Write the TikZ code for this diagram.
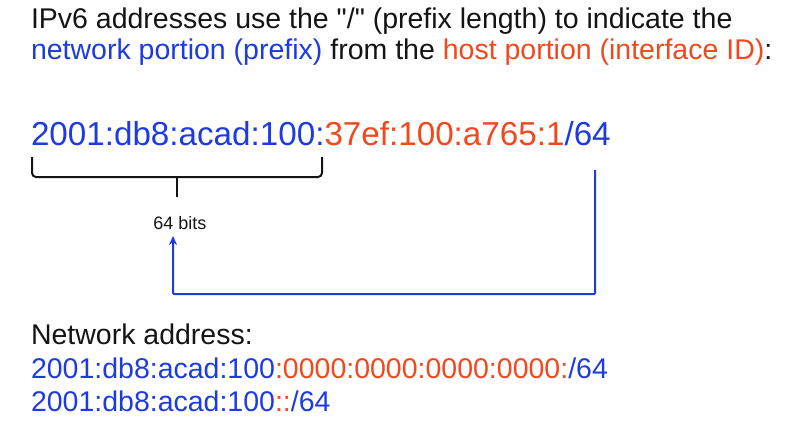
\documentclass[tikz,border=0pt]{standalone}
\usepackage{fontspec}
\setmainfont{Liberation Sans}[Ligatures=TeXOff]
\usetikzlibrary{arrows.meta}
\definecolor{netblue}{RGB}{30,58,225}
\definecolor{hostred}{RGB}{242,72,30}
\definecolor{txt}{RGB}{20,20,20}
\tikzset{
  line/.style={inner sep=0pt, outer sep=0pt, anchor=base west, text=txt},
  big/.style={line, font=\fontsize{28.5}{32}\selectfont},
  addr/.style={line, font=\fontsize{33.2}{36}\selectfont},
  small/.style={inner sep=0pt, anchor=base, text=txt, font=\fontsize{18}{20}\selectfont},
  bracepath/.style={draw=txt, line width=2pt, rounded corners=4pt},
  conn/.style={draw=netblue, line width=2pt, -{Stealth[length=9pt,width=8pt]}}
}
\begin{document}
\begin{tikzpicture}[x=1pt,y=-1pt]
\useasboundingbox (0,0) rectangle (799,433);
\node[big] (l1) at (31,29) {IPv6 addresses use the "/" (prefix length) to indicate the};
\node[big] (l2) at (31,60) {\textcolor{netblue}{network portion (prefix)} from the \textcolor{hostred}{host portion (interface ID)}:};
\node[addr] (ad) at (31,145) {\textcolor{netblue}{2001:db8:acad:100:}\textcolor{hostred}{37ef:100:a765:1}\textcolor{netblue}{/64}};
\draw[bracepath] (32,157) -- (32,177) -- (322,177) -- (322,157);
\draw[draw=txt, line width=2pt] (177,177) -- (177,197);
\node[small] (bits) at (180,229) {64 bits};
\coordinate (start) at (595,170);
\coordinate (corner) at (595,294);
\draw[conn, rounded corners=1pt] (start) -- (corner) -- (173,294) -- (173,236);
\node[big] (n1) at (31,344) {Network address:};
\node[big] (n2) at (31,378) {\textcolor{netblue}{2001:db8:acad:100}\textcolor{hostred}{:0000:0000:0000:0000:}\textcolor{netblue}{/64}};
\node[big] (n3) at (31,411) {\textcolor{netblue}{2001:db8:acad:100}\textcolor{hostred}{::}\textcolor{netblue}{/64}};
\end{tikzpicture}
\end{document}
